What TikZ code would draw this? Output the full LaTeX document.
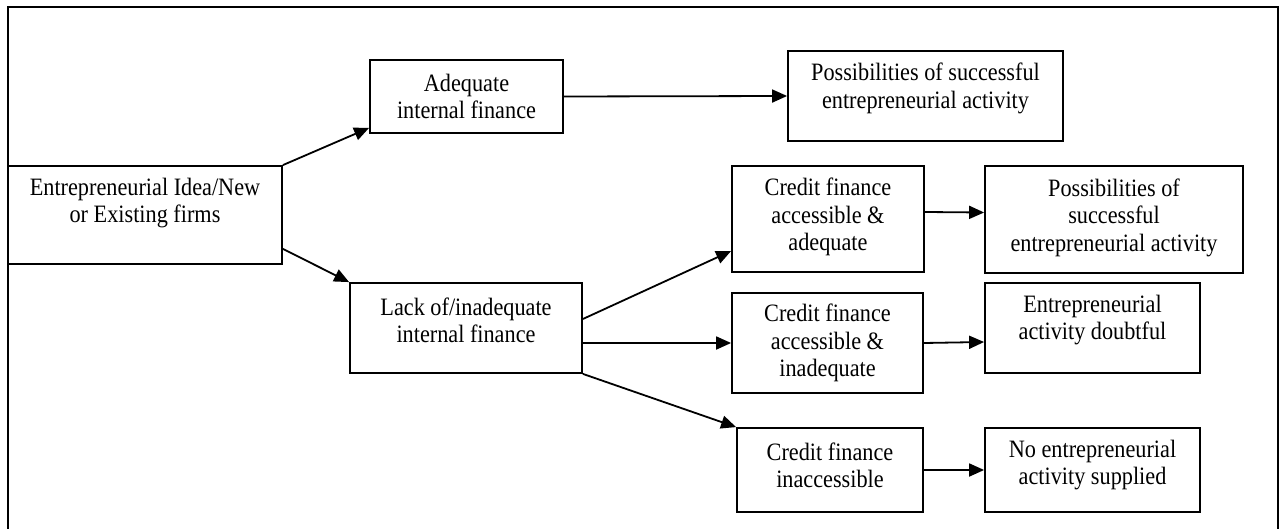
\documentclass[tikz,border=0pt]{standalone}
\usepackage{fontspec}
\setmainfont[FakeStretch=0.89]{Liberation Serif}
\usetikzlibrary{arrows.meta}

\begin{document}
\begin{tikzpicture}[x=1pt,y=-1pt,
		box/.style={draw,line width=1.8pt,align=center,inner sep=0pt,font=\fontsize{25}{27.5}\selectfont},
		arr/.style={-{Triangle[length=15pt,width=13pt]},line width=1.8pt}]
		\useasboundingbox (0,0) rectangle (1284,529);
		\draw[line width=2pt] (8,529) -- (8,7) -- (1278,7) -- (1278,529);

		\node[box,minimum width=274pt,minimum height=98pt,text depth=29pt] (idea) at (145,215) {Entrepreneurial Idea/New\\or Existing firms};
		\node[box,minimum width=193pt,minimum height=73pt] (adequate) at (466.5,96.5) {Adequate\\internal finance};
		\node[box,minimum width=275pt,minimum height=90pt,text depth=21pt] (posstop) at (925.5,96) {Possibilities of successful\\entrepreneurial activity};
		\node[box,minimum width=232pt,minimum height=90pt,text depth=16pt] (lack) at (466,328) {Lack of/inadequate\\internal finance};

		\node[box,minimum width=192pt,minimum height=106pt,text depth=9pt] (credadq) at (828,219) {Credit finance\\accessible \&\\adequate};
		\node[box,minimum width=191pt,minimum height=100pt] (credinadq) at (827.5,343) {Credit finance\\accessible \&\\inadequate};
		\node[box,minimum width=186pt,minimum height=84pt,text depth=10pt] (credno) at (830,470) {Credit finance\\inaccessible};

		\node[box,minimum width=258pt,minimum height=107pt,text depth=9pt] (possmid) at (1114,219.5) {Possibilities of\\successful\\entrepreneurial activity};
		\node[box,minimum width=215pt,minimum height=90pt,text depth=21pt] (doubt) at (1092.5,328) {Entrepreneurial\\activity doubtful};
		\node[box,minimum width=215pt,minimum height=84pt,text depth=15pt] (noact) at (1092.5,470) {No entrepreneurial\\activity supplied};

		\draw[arr] (idea.north east) -- ([yshift=6pt]adequate.south west);
		\draw[arr] ([yshift=16pt]idea.south east) -- (lack.north west);
		\draw[arr] (adequate.east) -- (posstop.west);
		\draw[arr] ([yshift=9pt]lack.east) -- ([yshift=-32pt]credadq.west);
		\draw[arr] ([yshift=-15pt]lack.east) -- (credinadq.west);
		\draw[arr] (lack.south east) -- (credno.north west);
		\draw[arr] ([yshift=7pt]credadq.east) -- ([yshift=7pt]possmid.west);
		\draw[arr] (credinadq.east) -- ([yshift=-14pt]doubt.west);
		\draw[arr] (credno.east) -- (noact.west);
	\end{tikzpicture}
\end{document}
